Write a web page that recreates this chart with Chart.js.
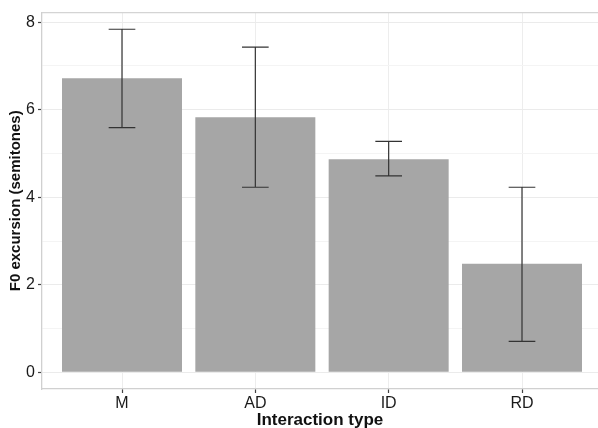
<!DOCTYPE html>
<html>
<head>
<meta charset="utf-8">
<script src="https://cdn.jsdelivr.net/npm/chart.js@4/dist/chart.umd.min.js"></script>
<style>
  html, body { margin: 0; padding: 0; background: #fff; overflow: hidden; }
  #wrap { width: 598px; height: 428px; }
</style>
</head>
<body>
<div id="wrap"><canvas id="grafico" width="598" height="428"></canvas></div>
<script>
// dados
const categorias = ['M', 'AD', 'ID', 'RD'];
const medias = [6.72, 5.83, 4.87, 2.48];
const erroInferior = [5.59, 4.23, 4.49, 0.71];
const erroSuperior = [7.84, 7.43, 5.28, 4.23];
const ticksY = [0, 1, 2, 3, 4, 5, 6, 7, 8];

const fonte = '"Liberation Sans", Arial, Helvetica, sans-serif';

// barras de erro + borda superior do painel
const pluginErros = {
    id: 'erros',
    afterDatasetsDraw(chart) {
        const { ctx, scales: { x, y }, chartArea } = chart;
        ctx.save();
        ctx.strokeStyle = '#333333';
        ctx.lineWidth = 1.2;
        categorias.forEach((c, i) => {
            const xc = x.getPixelForValue(i + 1);
            const x0 = x.getPixelForValue(i + 1 - 0.1);
            const x1 = x.getPixelForValue(i + 1 + 0.1);
            const yl = y.getPixelForValue(erroInferior[i]);
            const yh = y.getPixelForValue(erroSuperior[i]);
            ctx.beginPath();
            ctx.moveTo(xc, yl); ctx.lineTo(xc, yh);
            ctx.moveTo(x0, yl); ctx.lineTo(x1, yl);
            ctx.moveTo(x0, yh); ctx.lineTo(x1, yh);
            ctx.stroke();
        });
        ctx.strokeStyle = '#d4d4d4';
        ctx.lineWidth = 1.3;
        ctx.beginPath();
        ctx.moveTo(chartArea.left, chartArea.top);
        ctx.lineTo(chartArea.right, chartArea.top);
        ctx.stroke();
        ctx.restore();
    }
};

new Chart(document.getElementById('grafico'), {
    type: 'bar',
    data: {
        datasets: [{
            data: medias.map((v, i) => ({ x: i + 1, y: v })),
            backgroundColor: '#a6a6a6',
            borderWidth: 0,
            barPercentage: 0.9,
            categoryPercentage: 1
        }]
    },
    options: {
        responsive: false,
        animation: false,
        layout: { padding: { top: 12, right: 0, left: 0, bottom: 0 } },
        plugins: {
            legend: { display: false },
            tooltip: { enabled: false }
        },
        scales: {
            x: {
                type: 'linear',
                offset: false,
                min: 0.4,
                max: 4.57,
                afterBuildTicks: (s) => { s.ticks = categorias.map((c, i) => ({ value: i + 1 })); },
                afterFit: (s) => { s.height = 39; },
                ticks: {
                    callback: (v) => categorias[v - 1] || '',
                    color: '#1a1a1a',
                    font: { family: fonte, size: 16 },
                    padding: 1,
                    maxRotation: 0
                },
                grid: { offset: false, color: '#ededed', lineWidth: 1, tickLength: 4, tickColor: '#444', tickWidth: 1.2 },
                border: { color: '#d0d0d0', width: 1.3 },
                title: {
                    display: true,
                    text: 'Interaction type',
                    color: '#111',
                    font: { family: fonte, size: 17, weight: 'bold' },
                    padding: { top: 0, bottom: -3 }
                }
            },
            y: {
                min: -0.38,
                max: 8.22,
                afterBuildTicks: (s) => { s.ticks = ticksY.map(v => ({ value: v })); },
                afterFit: (s) => { s.width = 42; },
                ticks: {
                    callback: (v) => (v % 2 === 0 ? String(v) : ''),
                    color: '#1a1a1a',
                    font: { family: fonte, size: 16 },
                    padding: 3
                },
                grid: {
                    color: (c) => (c.tick && c.tick.value % 2 === 0 ? '#ebebeb' : '#f4f4f4'),
                    lineWidth: 1,
                    tickLength: 4,
                    tickColor: (c) => (c.tick && c.tick.value % 2 === 0 ? '#444' : 'rgba(0,0,0,0)'),
                    tickWidth: 1.2
                },
                border: { color: '#d0d0d0', width: 1.3 },
                title: {
                    display: true,
                    text: 'F0 excursion (semitones)',
                    color: '#111',
                    font: { family: fonte, size: 15, weight: 'bold' },
                    padding: { top: 7, bottom: 0 }
                }
            }
        }
    },
    plugins: [pluginErros]
});
</script>
</body>
</html>
